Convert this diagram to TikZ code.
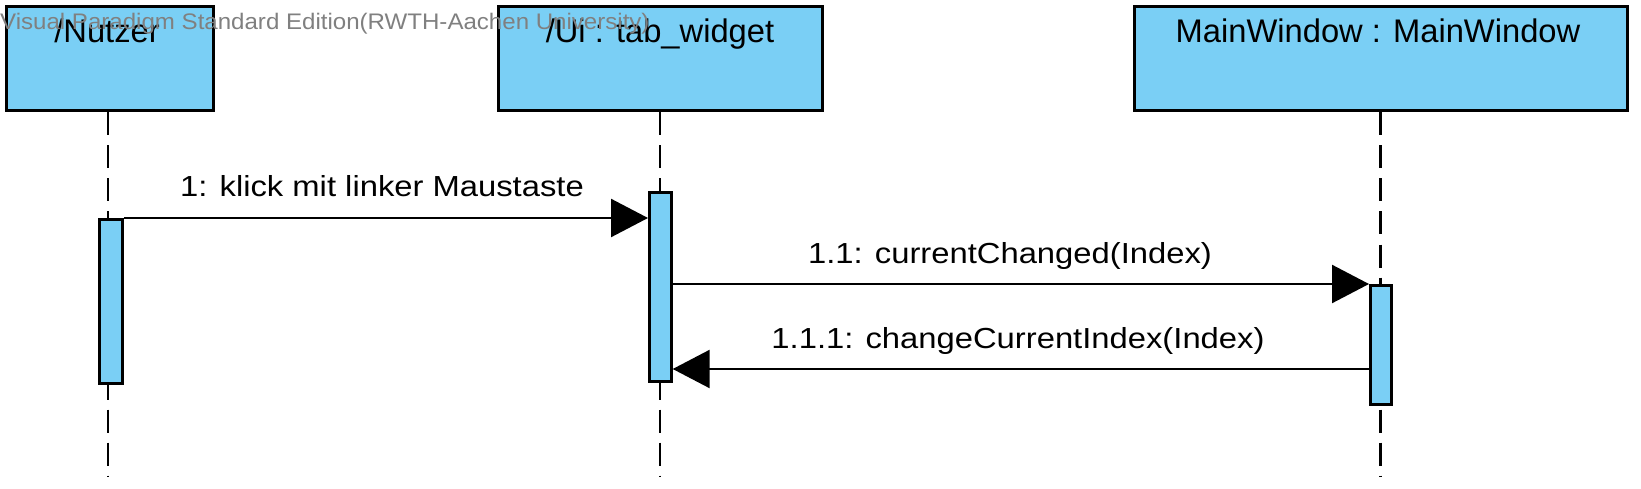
\documentclass[tikz,border=0pt]{standalone}
\usepackage{fontspec}
\setmainfont{Liberation Sans}
\newfontfamily\titlefont{Liberation Sans}
\newfontfamily\lblfont[FakeStretch=1.13]{Liberation Sans}
\newfontfamily\wmfont[FakeStretch=1.07]{Liberation Sans}
\usetikzlibrary{arrows.meta}
\definecolor{vpblue}{RGB}{122,207,245}
\definecolor{wmgray}{RGB}{128,128,128}
\tikzset{
  objbox/.style={draw=black, fill=vpblue, line width=3pt, inner sep=0pt, minimum height=104.5pt},
  titletext/.style={anchor=base, inner sep=0pt, font=\titlefont\fontsize{32.7}{36}\selectfont},
  actbox/.style={draw=black, fill=vpblue, line width=3pt, inner sep=0pt},
  lifeline/.style={line width=2.2pt, dash pattern=on 23pt off 10pt},
  msg/.style={line width=2.4pt, -{Triangle[length=37pt,width=38pt]}},
  msglabel/.style={anchor=base, inner sep=0pt, font=\lblfont\fontsize{29}{34}\selectfont},
  watermark/.style={anchor=base west, inner sep=0pt, text=wmgray, font=\wmfont\fontsize{22.5}{26}\selectfont}
}
\begin{document}
\begin{tikzpicture}[x=1pt,y=-1pt]
\useasboundingbox[fill=white] (0,0) rectangle (1641,489);
% object boxes
\node[objbox, minimum width=207pt] (nutzer) at (109.7,58.75) {};
\node[objbox, minimum width=324pt] (ui) at (660,58.75) {};
\node[objbox, minimum width=493pt] (mw) at (1380.5,58.75) {};
\node[titletext] (nutzerT) at (107,42.5) {/Nutzer};
\node[titletext] (uiT) at (660,42.5) {/Ui : tab\_widget};
\node[titletext] (mwT) at (1378,42.5) {MainWindow : MainWindow};
% lifeline ends
\coordinate (nutzerEnd) at (108.3,477);
\coordinate (uiEnd) at (660.3,477);
\coordinate (mwEnd) at (1380.5,477);
\draw[lifeline] (nutzer.south -| nutzerEnd) -- (nutzerEnd);
\draw[lifeline] (ui.south -| uiEnd) -- (uiEnd);
\draw[lifeline] (mw.south -| mwEnd) -- (mwEnd);
% activations
\node[actbox, minimum width=23.3pt, minimum height=164pt] (act1) at (111.15,301.5) {};
\node[actbox, minimum width=21.7pt, minimum height=188.5pt] (act2) at (660.35,286.75) {};
\node[actbox, minimum width=20.5pt, minimum height=118.5pt] (act3) at (1380.75,344.75) {};
% messages
\coordinate (m3) at (0,369);
\draw[msg] (act1.north east) -- (act1.north east -| act2.west);
\draw[msg] (act3.north west -| act2.east) -- (act3.north west);
\draw[msg] (m3 -| act3.west) -- (m3 -| act2.east);
\node[msglabel] (l1) at (382,196.7) {1: klick mit linker Maustaste};
\node[msglabel] (l2) at (1010,263) {1.1: currentChanged(Index)};
\node[msglabel] (l3) at (1018,348) {1.1.1: changeCurrentIndex(Index)};
% watermark
\node[watermark] (wm) at (0,29.3) {Visual Paradigm Standard Edition(RWTH-Aachen University)};
\end{tikzpicture}
\end{document}
